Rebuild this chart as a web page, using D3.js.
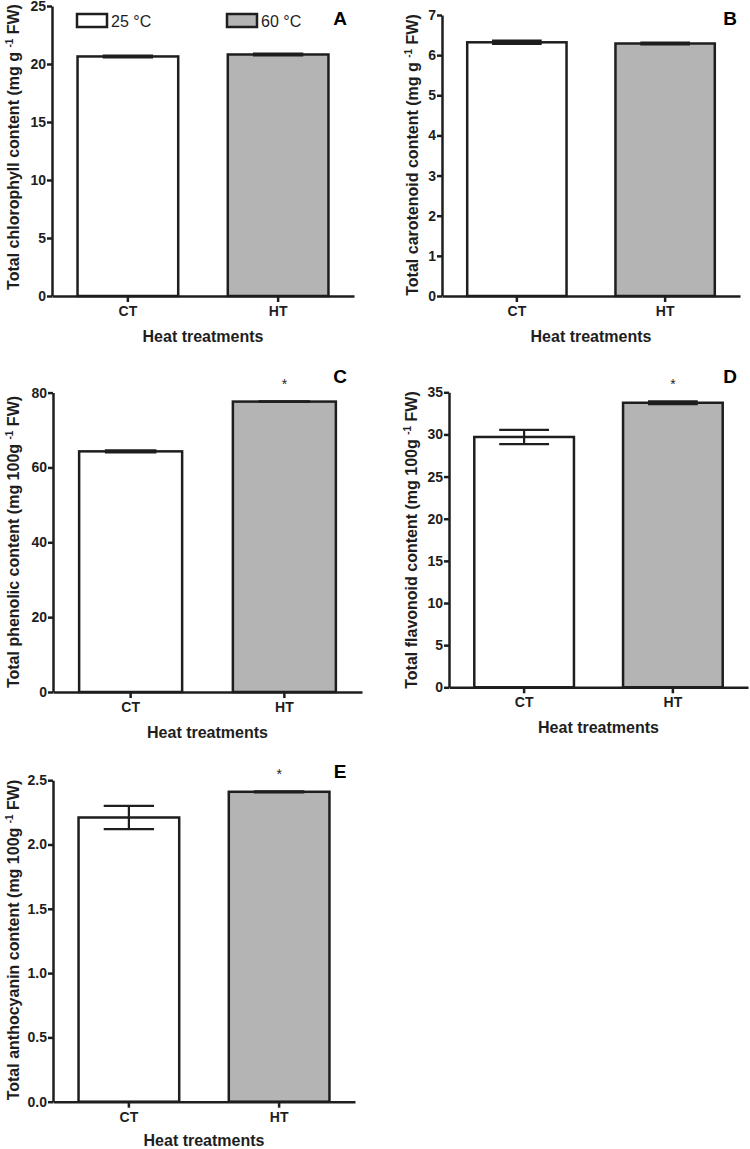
<!DOCTYPE html>
<html><head><meta charset="utf-8">
<script src="https://cdn.jsdelivr.net/npm/d3@7"></script>
<style>
body{margin:0;background:#fff}
svg{display:block;font-family:"Liberation Sans",Arial,sans-serif}
</style>
</head><body>
<svg id="c" width="750" height="1149"></svg>
<script>
// ---------- data ----------
const categories = ["CT", "HT"];
const seriesNames = ["25 °C", "60 °C"];

const chlorophyll = [20.65, 20.82];
const chlorophyllErr = [0.08, 0.08];
const carotenoid = [6.32, 6.29];
const carotenoidErr = [0.04, 0.02];
const phenolic = [64.3, 77.6];
const phenolicErr = [0.3, 0.05];
const flavonoid = [29.7, 33.76];
const flavonoidErr = [0.85, 0.18];
const anthocyanin = [2.21, 2.41];
const anthocyaninErr = [0.09, 0.004];

const ticksA = [0, 5, 10, 15, 20, 25];
const ticksB = [0, 1, 2, 3, 4, 5, 6, 7];
const ticksC = [0, 20, 40, 60, 80];
const ticksD = [0, 5, 10, 15, 20, 25, 30, 35];
const ticksE = [0, 0.5, 1.0, 1.5, 2.0, 2.5];

const starsA = ["", ""];
const starsB = ["", ""];
const starsC = ["", "*"];
const starsD = ["", "*"];
const starsE = ["", "*"];

const xTitle = "Heat treatments";

// ---------- layout ----------
const ink = "#1e1e1e";
const fills = ["#ffffff", "#b4b4b4"];

const panels = [
  {letter:"A", vals:chlorophyll, err:chlorophyllErr, ticks:ticksA, stars:starsA, fmt:d3.format("d"),
   left:52, right:354, bottom:296, top:6, titleX:19, titleY:147, letterX:340, letterY:25, xTitleY:342,
   title:["Total chlorophyll content (mg g ", "-1", " FW)"]},
  {letter:"B", vals:carotenoid, err:carotenoidErr, ticks:ticksB, stars:starsB, fmt:d3.format("d"),
   left:442, right:740, bottom:296, top:15, titleX:418, titleY:155, letterX:730, letterY:25, xTitleY:342,
   title:["Total carotenoid content (mg g ", "-1", " FW)"]},
  {letter:"C", vals:phenolic, err:phenolicErr, ticks:ticksC, stars:starsC, fmt:d3.format("d"),
   left:53, right:362, bottom:692, top:392.6, titleX:19, titleY:542, letterX:340, letterY:383, xTitleY:738,
   title:["Total phenolic content (mg 100g ", "-1", " FW)"]},
  {letter:"D", vals:flavonoid, err:flavonoidErr, ticks:ticksD, stars:starsD, fmt:d3.format("d"),
   left:449, right:748, bottom:687.3, top:392.3, titleX:417, titleY:540, letterX:730, letterY:383, xTitleY:733,
   title:["Total flavonoid content (mg 100g ", "-1", " FW)"]},
  {letter:"E", vals:anthocyanin, err:anthocyaninErr, ticks:ticksE, stars:starsE, fmt:d3.format(".1f"),
   left:53, right:355, bottom:1101.7, top:780.2, titleX:19, titleY:940, letterX:340, letterY:778, xTitleY:1146,
   title:["Total anthocyanin content (mg 100g ", "-1", " FW)"]}
];

const svg = d3.select("#c");

panels.forEach(p => {
  const g = svg.append("g");
  const y = d3.scaleLinear().domain([0, d3.max(p.ticks)]).range([p.bottom, p.top]);
  const x = d3.scaleBand().domain(categories).range([p.left, p.right])
    .paddingInner(0.33).paddingOuter(0.17);
  const bw = x.bandwidth();

  // bars
  g.selectAll("rect.bar").data(p.vals).join("rect")
    .attr("class", "bar")
    .attr("x", (d, i) => x(categories[i]))
    .attr("width", bw)
    .attr("y", d => y(d))
    .attr("height", d => y(0) - y(d))
    .attr("fill", (d, i) => fills[i])
    .attr("stroke", ink).attr("stroke-width", 2.5);

  // error bars
  p.vals.forEach((v, i) => {
    const cx = x(categories[i]) + bw / 2;
    const e = p.err[i];
    const eg = g.append("g").attr("stroke", ink).attr("stroke-width", 2.2);
    eg.append("line").attr("x1", cx).attr("x2", cx).attr("y1", y(v + e)).attr("y2", y(v - e));
    [v + e, v - e].forEach(t => {
      eg.append("line").attr("x1", cx - bw / 4).attr("x2", cx + bw / 4)
        .attr("y1", y(t)).attr("y2", y(t));
    });
    if (p.stars[i]) {
      g.append("text").attr("x", cx).attr("y", y(v + e) - 12)
        .attr("text-anchor", "middle").attr("font-size", 14).attr("fill", ink)
        .text(p.stars[i]);
    }
  });

  // y axis
  const ya = g.append("g").attr("transform", `translate(${p.left},0)`)
    .call(d3.axisLeft(y).tickValues(p.ticks).tickFormat(p.fmt)
      .tickSize(5).tickSizeOuter(0).tickPadding(1));
  // x axis
  const xa = g.append("g").attr("transform", `translate(0,${p.bottom})`)
    .call(d3.axisBottom(x).tickSize(6).tickSizeOuter(0).tickPadding(4));
  [ya, xa].forEach(a => {
    a.selectAll("path,line").attr("stroke", ink).attr("stroke-width", 2.5);
    a.selectAll("text").attr("fill", ink).attr("font-size", 14).attr("font-weight", "bold")
      .attr("font-family", '"Liberation Sans",Arial,sans-serif');
  });

  // x title
  g.append("text").attr("x", (p.left + p.right) / 2).attr("y", p.xTitleY)
    .attr("text-anchor", "middle").attr("font-size", 16).attr("font-weight", "bold")
    .attr("fill", ink).text(xTitle);

  // y title
  const yt = g.append("text").attr("transform", `translate(${p.titleX},${p.titleY}) rotate(-90)`)
    .attr("text-anchor", "middle").attr("font-size", 16).attr("font-weight", "bold").attr("fill", ink);
  yt.append("tspan").text(p.title[0]);
  yt.append("tspan").attr("dy", -6).attr("font-size", 10).text(p.title[1]);
  yt.append("tspan").attr("dy", 6).text(p.title[2]);

  // panel letter
  g.append("text").attr("x", p.letterX).attr("y", p.letterY).attr("text-anchor", "middle")
    .attr("font-size", 19).attr("font-weight", "bold").attr("fill", "#000").text(p.letter);
});

// legend (inside panel A)
const legendX = [77, 227];
seriesNames.forEach((s, i) => {
  svg.append("rect").attr("x", legendX[i]).attr("y", 14).attr("width", 30).attr("height", 13)
    .attr("fill", fills[i]).attr("stroke", ink).attr("stroke-width", 2.5);
  svg.append("text").attr("x", legendX[i] + 34).attr("y", 27).attr("font-size", 16)
    .attr("fill", ink).text(s);
});
</script>
</body></html>
